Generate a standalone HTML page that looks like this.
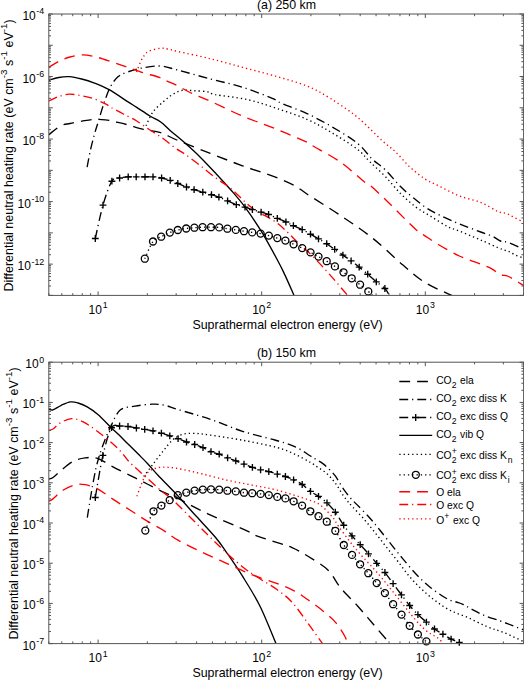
<!DOCTYPE html>
<html><head><meta charset="utf-8"><style>
html,body{margin:0;padding:0;background:#fff;}
svg{display:block;font-family:"Liberation Sans", sans-serif;}
</style></head><body>
<svg width="524" height="680" viewBox="0 0 524 680" fill="#000">
<defs><clipPath id="ca"><rect x="48.80" y="14.00" width="474.80" height="281.40"/></clipPath>
<clipPath id="cb"><rect x="48.80" y="362.20" width="474.80" height="281.40"/></clipPath></defs>
<path d="M48.80,134.70 C50.73,133.25 56.87,127.87 60.40,126.00 C63.93,124.13 66.43,124.30 70.00,123.50 C73.57,122.70 77.88,121.88 81.80,121.20 C85.72,120.52 89.58,119.63 93.50,119.40 C97.42,119.17 101.55,119.37 105.30,119.80 C109.05,120.23 112.32,121.18 116.00,122.00 C119.68,122.82 122.83,123.47 127.40,124.70 C131.97,125.93 137.85,128.07 143.40,129.40 C148.95,130.73 155.13,130.93 160.70,132.70 C166.27,134.47 168.53,136.55 176.80,140.00 C185.07,143.45 199.35,149.10 210.30,153.40 C221.25,157.70 231.75,161.88 242.50,165.80 C253.25,169.72 266.12,173.60 274.80,176.90 C283.48,180.20 289.07,182.63 294.60,185.60 C300.13,188.57 300.38,189.73 308.00,194.70 C315.62,199.67 329.55,208.17 340.30,215.40 C351.05,222.63 362.05,229.82 372.50,238.10 C382.95,246.38 394.42,257.80 403.00,265.10 C411.58,272.40 417.00,277.35 424.00,281.90 C431.00,286.45 440.33,290.15 445.00,292.40 C449.67,294.65 450.83,294.90 452.00,295.40" fill="none" stroke="#000" stroke-width="1.35" stroke-dasharray="10.8 7.0" clip-path="url(#ca)"/>
<path d="M87.10,167.10 C87.68,164.15 89.33,155.02 90.60,149.40 C91.87,143.78 93.33,138.30 94.70,133.40 C96.07,128.50 97.23,125.12 98.80,120.00 C100.37,114.88 102.15,108.27 104.10,102.70 C106.05,97.13 108.15,90.95 110.50,86.60 C112.85,82.25 115.40,79.02 118.20,76.60 C121.00,74.18 123.48,73.50 127.30,72.10 C131.12,70.70 135.75,69.22 141.10,68.20 C146.45,67.18 153.42,65.73 159.40,66.00 C165.38,66.27 168.52,67.63 177.00,69.80 C185.48,71.97 199.38,76.10 210.30,79.00 C221.22,81.90 232.17,83.97 242.50,87.20 C252.83,90.43 265.68,95.65 272.30,98.40 C278.92,101.15 276.42,101.17 282.20,103.70 C287.98,106.23 298.57,109.67 307.00,113.60 C315.43,117.53 324.37,122.33 332.80,127.30 C341.23,132.27 351.02,138.08 357.60,143.40 C364.18,148.72 367.68,154.80 372.30,159.20 C376.92,163.60 380.60,165.23 385.30,169.80 C390.00,174.37 395.93,182.02 400.50,186.60 C405.07,191.18 408.37,193.73 412.70,197.30 C417.03,200.87 421.87,204.95 426.50,208.00 C431.13,211.05 435.03,212.97 440.50,215.60 C445.97,218.23 452.60,221.07 459.30,223.80 C466.00,226.53 475.22,229.95 480.70,232.00 C486.18,234.05 488.92,234.60 492.20,236.10 C495.48,237.60 497.67,239.92 500.40,241.00 C503.13,242.08 504.75,241.23 508.60,242.60 C512.45,243.97 521.02,248.10 523.50,249.20" fill="none" stroke="#000" stroke-width="1.35" stroke-dasharray="8.9 3.9 1.2 4.0" clip-path="url(#ca)"/>
<path d="M95.30,238.50 C96.58,232.93 100.23,214.65 103.00,205.10 C105.77,195.55 109.13,185.72 111.90,181.20 C114.67,176.68 116.88,178.73 119.60,178.00 C122.32,177.27 125.43,177.00 128.20,176.80 C130.97,176.60 133.40,176.80 136.20,176.80 C139.00,176.80 142.20,176.80 145.00,176.80 C147.80,176.80 150.23,176.60 153.00,176.80 C155.77,177.00 158.73,177.42 161.60,178.00 C164.47,178.58 167.50,179.38 170.20,180.30 C172.90,181.22 175.08,182.38 177.80,183.50 C180.52,184.62 183.78,185.97 186.50,187.00 C189.22,188.03 191.38,188.83 194.10,189.70 C196.82,190.57 199.90,191.37 202.80,192.20 C205.70,193.03 208.82,193.87 211.50,194.70 C214.18,195.53 216.22,196.17 218.90,197.20 C221.58,198.23 224.70,199.67 227.60,200.90 C230.50,202.13 233.40,203.57 236.30,204.60 C239.20,205.63 242.32,206.27 245.00,207.10 C247.68,207.93 249.72,208.77 252.40,209.60 C255.08,210.43 258.40,211.28 261.10,212.10 C263.80,212.92 265.90,213.47 268.60,214.50 C271.30,215.53 274.42,217.05 277.30,218.30 C280.18,219.55 283.22,220.77 285.90,222.00 C288.58,223.23 290.68,224.43 293.40,225.70 C296.12,226.97 299.35,228.18 302.20,229.60 C305.05,231.02 307.78,232.65 310.50,234.20 C313.22,235.75 315.80,237.32 318.50,238.90 C321.20,240.48 324.00,241.95 326.70,243.70 C329.40,245.45 332.00,247.50 334.70,249.40 C337.40,251.30 340.17,253.20 342.90,255.10 C345.63,257.00 348.38,258.80 351.10,260.80 C353.82,262.80 356.43,264.87 359.20,267.10 C361.97,269.33 364.85,271.75 367.70,274.20 C370.55,276.65 373.43,279.42 376.30,281.80 C379.17,284.18 382.70,286.23 384.90,288.50 C387.10,290.77 388.73,294.25 389.50,295.40" fill="none" stroke="#000" stroke-width="1.35" stroke-dasharray="8.9 3.9 1.2 4.0" clip-path="url(#ca)"/>
<path d="M48.80,80.30 C50.45,79.83 55.27,78.10 58.70,77.50 C62.13,76.90 65.58,76.45 69.40,76.70 C73.22,76.95 77.53,77.98 81.60,79.00 C85.67,80.02 89.22,81.02 93.80,82.80 C98.38,84.58 103.40,86.52 109.10,89.70 C114.80,92.88 123.40,98.95 128.00,101.90 C132.60,104.85 133.03,105.05 136.70,107.40 C140.37,109.75 146.00,113.57 150.00,116.00 C154.00,118.43 157.35,119.60 160.70,122.00 C164.05,124.40 166.00,126.85 170.10,130.40 C174.20,133.95 180.23,138.80 185.30,143.30 C190.37,147.80 195.42,152.38 200.50,157.40 C205.58,162.42 210.70,167.93 215.80,173.40 C220.90,178.87 226.23,184.58 231.10,190.20 C235.97,195.82 240.03,200.35 245.00,207.10 C249.97,213.85 255.43,221.77 260.90,230.70 C266.37,239.63 273.77,253.25 277.80,260.70 C281.83,268.15 282.40,269.62 285.10,275.40 C287.80,281.18 292.52,292.07 294.00,295.40" fill="none" stroke="#000" stroke-width="1.35"  clip-path="url(#ca)"/>
<path d="M146.00,125.80 C147.15,123.52 149.97,116.17 152.90,112.10 C155.83,108.03 160.30,104.33 163.60,101.40 C166.90,98.47 169.65,96.33 172.70,94.50 C175.75,92.67 178.33,91.03 181.90,90.40 C185.47,89.77 189.77,90.45 194.10,90.70 C198.43,90.95 204.38,91.25 207.90,91.90 C211.42,92.55 208.60,93.32 215.20,94.60 C221.80,95.88 237.20,97.28 247.50,99.60 C257.80,101.92 266.92,105.13 277.00,108.50 C287.08,111.87 298.70,115.67 308.00,119.80 C317.30,123.93 324.53,128.37 332.80,133.30 C341.07,138.23 351.40,144.62 357.60,149.40 C363.80,154.18 365.38,157.48 370.00,162.00 C374.62,166.52 380.22,171.25 385.30,176.50 C390.38,181.75 395.42,188.42 400.50,193.50 C405.58,198.58 410.70,203.17 415.80,207.00 C420.90,210.83 425.75,213.20 431.10,216.50 C436.45,219.80 443.20,224.38 447.90,226.80 C452.60,229.22 453.83,228.80 459.30,231.00 C464.77,233.20 473.58,236.95 480.70,240.00 C487.82,243.05 497.45,247.47 502.00,249.30 C506.55,251.13 505.83,250.08 508.00,251.00 C510.17,251.92 512.42,253.63 515.00,254.80 C517.58,255.97 522.08,257.47 523.50,258.00" fill="none" stroke="#000" stroke-width="1.35" stroke-dasharray="1.3 3.0" clip-path="url(#ca)"/>
<path d="M144.80,258.70 C146.17,255.83 150.27,245.17 153.00,241.50 C155.73,237.83 158.40,238.18 161.20,236.70 C164.00,235.22 167.03,233.72 169.80,232.60 C172.57,231.48 175.07,230.68 177.80,230.00 C180.53,229.32 183.43,228.88 186.20,228.50 C188.97,228.12 191.67,227.92 194.40,227.70 C197.13,227.48 199.83,227.28 202.60,227.20 C205.37,227.12 208.23,227.17 211.00,227.20 C213.77,227.23 216.47,227.15 219.20,227.40 C221.93,227.65 224.63,228.28 227.40,228.70 C230.17,229.12 233.03,229.48 235.80,229.90 C238.57,230.32 241.27,230.78 244.00,231.20 C246.73,231.62 249.43,232.00 252.20,232.40 C254.97,232.80 257.83,233.07 260.60,233.60 C263.37,234.13 266.02,234.85 268.80,235.60 C271.58,236.35 274.53,237.27 277.30,238.10 C280.07,238.93 282.68,239.57 285.40,240.60 C288.12,241.63 290.80,243.05 293.60,244.30 C296.40,245.55 299.38,246.75 302.20,248.10 C305.02,249.45 307.78,250.98 310.50,252.40 C313.22,253.82 315.80,255.13 318.50,256.60 C321.20,258.07 323.97,259.57 326.70,261.20 C329.43,262.83 332.10,264.55 334.90,266.40 C337.70,268.25 340.70,270.32 343.50,272.30 C346.30,274.28 348.93,276.23 351.70,278.30 C354.47,280.37 357.33,282.52 360.10,284.70 C362.87,286.88 366.23,289.62 368.30,291.40 C370.37,293.18 371.80,294.73 372.50,295.40" fill="none" stroke="#000" stroke-width="1.35" stroke-dasharray="1.3 3.0" clip-path="url(#ca)"/>
<path d="M48.80,67.30 C50.67,66.22 56.47,62.52 60.00,60.80 C63.53,59.08 66.27,57.98 70.00,57.00 C73.73,56.02 78.18,54.93 82.40,54.90 C86.62,54.87 90.62,55.72 95.30,56.80 C99.98,57.88 105.42,59.75 110.50,61.40 C115.58,63.05 120.70,64.92 125.80,66.70 C130.90,68.48 135.50,70.32 141.10,72.10 C146.70,73.88 155.15,75.95 159.40,77.40 C163.65,78.85 163.50,79.37 166.60,80.80 C169.70,82.23 173.92,83.97 178.00,86.00 C182.08,88.03 185.72,90.47 191.10,93.00 C196.48,95.53 201.73,97.35 210.30,101.20 C218.87,105.05 231.75,111.55 242.50,116.10 C253.25,120.65 264.05,124.15 274.80,128.50 C285.55,132.85 300.63,139.28 307.00,142.20 C313.37,145.12 307.45,142.70 313.00,146.00 C318.55,149.30 331.62,155.92 340.30,162.00 C348.98,168.08 359.90,178.40 365.10,182.50 C370.30,186.60 367.52,183.18 371.50,186.60 C375.48,190.02 383.25,197.43 389.00,203.00 C394.75,208.57 401.53,215.60 406.00,220.00 C410.47,224.40 412.70,226.80 415.80,229.40 C418.90,232.00 420.90,233.12 424.60,235.60 C428.30,238.08 432.22,240.90 438.00,244.30 C443.78,247.70 452.18,252.68 459.30,256.00 C466.42,259.32 475.22,262.02 480.70,264.20 C486.18,266.38 488.92,267.33 492.20,269.10 C495.48,270.87 497.67,273.57 500.40,274.80 C503.13,276.03 504.75,274.72 508.60,276.50 C512.45,278.28 521.02,284.00 523.50,285.50" fill="none" stroke="#ff0000" stroke-width="1.35" stroke-dasharray="10.8 7.0" clip-path="url(#ca)"/>
<path d="M48.80,101.00 C50.45,100.25 55.27,97.63 58.70,96.50 C62.13,95.37 65.58,94.32 69.40,94.20 C73.22,94.08 77.53,95.03 81.60,95.80 C85.67,96.57 89.73,97.40 93.80,98.80 C97.87,100.20 103.08,102.73 106.00,104.20 C108.92,105.67 108.40,105.97 111.30,107.60 C114.20,109.23 119.17,111.77 123.40,114.00 C127.63,116.23 132.27,118.33 136.70,121.00 C141.13,123.67 145.55,127.05 150.00,130.00 C154.45,132.95 159.17,135.68 163.40,138.70 C167.63,141.72 171.75,145.48 175.40,148.10 C179.05,150.72 181.12,151.45 185.30,154.40 C189.48,157.35 195.42,161.87 200.50,165.80 C205.58,169.73 210.70,174.18 215.80,178.00 C220.90,181.82 225.00,183.65 231.10,188.70 C237.20,193.75 244.70,202.55 252.40,208.30 C260.10,214.05 269.37,217.15 277.30,223.20 C285.23,229.25 293.98,238.97 300.00,244.60 C306.02,250.23 308.63,252.22 313.40,257.00 C318.17,261.78 322.88,266.90 328.60,273.30 C334.32,279.70 344.52,291.72 347.70,295.40" fill="none" stroke="#ff0000" stroke-width="1.35" stroke-dasharray="8.9 3.9 1.2 4.0" clip-path="url(#ca)"/>
<path d="M136.50,72.10 C137.27,70.18 139.72,63.47 141.10,60.60 C142.48,57.73 143.47,56.50 144.80,54.90 C146.13,53.30 146.48,52.12 149.10,51.00 C151.72,49.88 157.32,48.52 160.50,48.20 C163.68,47.88 165.28,48.55 168.20,49.10 C171.12,49.65 170.98,49.90 178.00,51.50 C185.02,53.10 199.55,56.07 210.30,58.70 C221.05,61.33 231.75,64.42 242.50,67.30 C253.25,70.18 264.05,72.88 274.80,76.00 C285.55,79.12 297.75,82.27 307.00,86.00 C316.25,89.73 321.87,93.17 330.30,98.40 C338.73,103.63 348.92,110.32 357.60,117.40 C366.28,124.48 376.13,135.22 382.40,140.90 C388.67,146.58 390.65,147.18 395.20,151.50 C399.75,155.82 404.73,162.22 409.70,166.80 C414.67,171.38 420.28,175.88 425.00,179.00 C429.72,182.12 432.28,182.68 438.00,185.50 C443.72,188.32 452.18,193.08 459.30,195.90 C466.42,198.72 474.25,199.80 480.70,202.40 C487.15,205.00 493.72,209.65 498.00,211.50 C502.28,213.35 503.72,212.52 506.40,213.50 C509.08,214.48 511.25,215.98 514.10,217.40 C516.95,218.82 521.93,221.23 523.50,222.00" fill="none" stroke="#ff0000" stroke-width="1.35" stroke-dasharray="1.3 3.0" clip-path="url(#ca)"/>
<path d="M91.90,238.50H98.70M95.30,235.10V241.90" stroke="#000" stroke-width="1.35" fill="none"/>
<path d="M99.60,205.10H106.40M103.00,201.70V208.50" stroke="#000" stroke-width="1.35" fill="none"/>
<path d="M108.50,181.20H115.30M111.90,177.80V184.60" stroke="#000" stroke-width="1.35" fill="none"/>
<path d="M116.20,178.00H123.00M119.60,174.60V181.40" stroke="#000" stroke-width="1.35" fill="none"/>
<path d="M124.80,176.80H131.60M128.20,173.40V180.20" stroke="#000" stroke-width="1.35" fill="none"/>
<path d="M132.80,176.80H139.60M136.20,173.40V180.20" stroke="#000" stroke-width="1.35" fill="none"/>
<path d="M141.60,176.80H148.40M145.00,173.40V180.20" stroke="#000" stroke-width="1.35" fill="none"/>
<path d="M149.60,176.80H156.40M153.00,173.40V180.20" stroke="#000" stroke-width="1.35" fill="none"/>
<path d="M158.20,178.00H165.00M161.60,174.60V181.40" stroke="#000" stroke-width="1.35" fill="none"/>
<path d="M166.80,180.30H173.60M170.20,176.90V183.70" stroke="#000" stroke-width="1.35" fill="none"/>
<path d="M174.40,183.50H181.20M177.80,180.10V186.90" stroke="#000" stroke-width="1.35" fill="none"/>
<path d="M183.10,187.00H189.90M186.50,183.60V190.40" stroke="#000" stroke-width="1.35" fill="none"/>
<path d="M190.70,189.70H197.50M194.10,186.30V193.10" stroke="#000" stroke-width="1.35" fill="none"/>
<path d="M199.40,192.20H206.20M202.80,188.80V195.60" stroke="#000" stroke-width="1.35" fill="none"/>
<path d="M208.10,194.70H214.90M211.50,191.30V198.10" stroke="#000" stroke-width="1.35" fill="none"/>
<path d="M215.50,197.20H222.30M218.90,193.80V200.60" stroke="#000" stroke-width="1.35" fill="none"/>
<path d="M224.20,200.90H231.00M227.60,197.50V204.30" stroke="#000" stroke-width="1.35" fill="none"/>
<path d="M232.90,204.60H239.70M236.30,201.20V208.00" stroke="#000" stroke-width="1.35" fill="none"/>
<path d="M241.60,207.10H248.40M245.00,203.70V210.50" stroke="#000" stroke-width="1.35" fill="none"/>
<path d="M249.00,209.60H255.80M252.40,206.20V213.00" stroke="#000" stroke-width="1.35" fill="none"/>
<path d="M257.70,212.10H264.50M261.10,208.70V215.50" stroke="#000" stroke-width="1.35" fill="none"/>
<path d="M265.20,214.50H272.00M268.60,211.10V217.90" stroke="#000" stroke-width="1.35" fill="none"/>
<path d="M273.90,218.30H280.70M277.30,214.90V221.70" stroke="#000" stroke-width="1.35" fill="none"/>
<path d="M282.50,222.00H289.30M285.90,218.60V225.40" stroke="#000" stroke-width="1.35" fill="none"/>
<path d="M290.00,225.70H296.80M293.40,222.30V229.10" stroke="#000" stroke-width="1.35" fill="none"/>
<path d="M298.80,229.60H305.60M302.20,226.20V233.00" stroke="#000" stroke-width="1.35" fill="none"/>
<path d="M307.10,234.20H313.90M310.50,230.80V237.60" stroke="#000" stroke-width="1.35" fill="none"/>
<path d="M315.10,238.90H321.90M318.50,235.50V242.30" stroke="#000" stroke-width="1.35" fill="none"/>
<path d="M323.30,243.70H330.10M326.70,240.30V247.10" stroke="#000" stroke-width="1.35" fill="none"/>
<path d="M331.30,249.40H338.10M334.70,246.00V252.80" stroke="#000" stroke-width="1.35" fill="none"/>
<path d="M339.50,255.10H346.30M342.90,251.70V258.50" stroke="#000" stroke-width="1.35" fill="none"/>
<path d="M347.70,260.80H354.50M351.10,257.40V264.20" stroke="#000" stroke-width="1.35" fill="none"/>
<path d="M355.80,267.10H362.60M359.20,263.70V270.50" stroke="#000" stroke-width="1.35" fill="none"/>
<path d="M364.30,274.20H371.10M367.70,270.80V277.60" stroke="#000" stroke-width="1.35" fill="none"/>
<path d="M372.90,281.80H379.70M376.30,278.40V285.20" stroke="#000" stroke-width="1.35" fill="none"/>
<path d="M381.50,288.50H388.30M384.90,285.10V291.90" stroke="#000" stroke-width="1.35" fill="none"/>
<circle cx="144.80" cy="258.70" r="3.50" fill="none" stroke="#000" stroke-width="1.3"/>
<circle cx="153.00" cy="241.50" r="3.50" fill="none" stroke="#000" stroke-width="1.3"/>
<circle cx="161.20" cy="236.70" r="3.50" fill="none" stroke="#000" stroke-width="1.3"/>
<circle cx="169.80" cy="232.60" r="3.50" fill="none" stroke="#000" stroke-width="1.3"/>
<circle cx="177.80" cy="230.00" r="3.50" fill="none" stroke="#000" stroke-width="1.3"/>
<circle cx="186.20" cy="228.50" r="3.50" fill="none" stroke="#000" stroke-width="1.3"/>
<circle cx="194.40" cy="227.70" r="3.50" fill="none" stroke="#000" stroke-width="1.3"/>
<circle cx="202.60" cy="227.20" r="3.50" fill="none" stroke="#000" stroke-width="1.3"/>
<circle cx="211.00" cy="227.20" r="3.50" fill="none" stroke="#000" stroke-width="1.3"/>
<circle cx="219.20" cy="227.40" r="3.50" fill="none" stroke="#000" stroke-width="1.3"/>
<circle cx="227.40" cy="228.70" r="3.50" fill="none" stroke="#000" stroke-width="1.3"/>
<circle cx="235.80" cy="229.90" r="3.50" fill="none" stroke="#000" stroke-width="1.3"/>
<circle cx="244.00" cy="231.20" r="3.50" fill="none" stroke="#000" stroke-width="1.3"/>
<circle cx="252.20" cy="232.40" r="3.50" fill="none" stroke="#000" stroke-width="1.3"/>
<circle cx="260.60" cy="233.60" r="3.50" fill="none" stroke="#000" stroke-width="1.3"/>
<circle cx="268.80" cy="235.60" r="3.50" fill="none" stroke="#000" stroke-width="1.3"/>
<circle cx="277.30" cy="238.10" r="3.50" fill="none" stroke="#000" stroke-width="1.3"/>
<circle cx="285.40" cy="240.60" r="3.50" fill="none" stroke="#000" stroke-width="1.3"/>
<circle cx="293.60" cy="244.30" r="3.50" fill="none" stroke="#000" stroke-width="1.3"/>
<circle cx="302.20" cy="248.10" r="3.50" fill="none" stroke="#000" stroke-width="1.3"/>
<circle cx="310.50" cy="252.40" r="3.50" fill="none" stroke="#000" stroke-width="1.3"/>
<circle cx="318.50" cy="256.60" r="3.50" fill="none" stroke="#000" stroke-width="1.3"/>
<circle cx="326.70" cy="261.20" r="3.50" fill="none" stroke="#000" stroke-width="1.3"/>
<circle cx="334.90" cy="266.40" r="3.50" fill="none" stroke="#000" stroke-width="1.3"/>
<circle cx="343.50" cy="272.30" r="3.50" fill="none" stroke="#000" stroke-width="1.3"/>
<circle cx="351.70" cy="278.30" r="3.50" fill="none" stroke="#000" stroke-width="1.3"/>
<circle cx="360.10" cy="284.70" r="3.50" fill="none" stroke="#000" stroke-width="1.3"/>
<circle cx="368.30" cy="291.40" r="3.50" fill="none" stroke="#000" stroke-width="1.3"/>
<path d="M48.80,479.00 C49.50,478.75 51.07,478.83 53.00,477.50 C54.93,476.17 57.10,473.67 60.40,471.00 C63.70,468.33 68.67,463.68 72.80,461.50 C76.93,459.32 81.07,458.42 85.20,457.90 C89.33,457.38 93.05,456.95 97.60,458.40 C102.15,459.85 107.12,463.78 112.50,466.60 C117.88,469.42 124.10,472.40 129.90,475.30 C135.70,478.20 141.52,481.10 147.30,484.00 C153.08,486.90 159.65,490.43 164.60,492.70 C169.55,494.97 173.53,495.97 177.00,497.60 C180.47,499.23 180.27,499.80 185.40,502.50 C190.53,505.20 197.45,509.03 207.80,513.80 C218.15,518.57 239.65,527.53 247.50,531.10 C255.35,534.67 249.93,533.27 254.90,535.20 C259.87,537.13 271.10,540.63 277.30,542.70 C283.50,544.77 286.98,545.33 292.10,547.60 C297.22,549.87 302.03,552.57 308.00,556.30 C313.97,560.03 322.52,564.82 327.90,570.00 C333.28,575.18 335.35,581.40 340.30,587.40 C345.25,593.40 352.23,600.02 357.60,606.00 C362.97,611.98 367.53,617.52 372.50,623.30 C377.47,629.08 384.48,637.32 387.40,640.70 C390.32,644.08 389.57,643.12 390.00,643.60" fill="none" stroke="#000" stroke-width="1.35" stroke-dasharray="10.8 7.0" clip-path="url(#cb)"/>
<path d="M87.30,517.60 C88.00,513.30 90.00,500.25 91.50,491.80 C93.00,483.35 94.55,474.23 96.30,466.90 C98.05,459.57 99.62,454.48 102.00,447.80 C104.38,441.12 107.57,433.10 110.60,426.80 C113.63,420.50 116.15,413.43 120.20,410.00 C124.25,406.57 129.57,407.17 134.90,406.20 C140.23,405.23 147.25,404.37 152.20,404.20 C157.15,404.03 160.30,404.32 164.60,405.20 C168.90,406.08 170.38,407.15 178.00,409.50 C185.62,411.85 199.55,415.67 210.30,419.30 C221.05,422.93 231.75,427.85 242.50,431.30 C253.25,434.75 266.00,437.42 274.80,440.00 C283.60,442.58 289.35,444.13 295.30,446.80 C301.25,449.47 307.05,453.90 310.50,456.00 C313.95,458.10 313.93,458.13 316.00,459.40 C318.07,460.67 320.62,461.88 322.90,463.60 C325.18,465.32 327.60,467.60 329.70,469.70 C331.80,471.80 333.72,473.78 335.50,476.20 C337.28,478.62 338.82,481.72 340.40,484.20 C341.98,486.68 343.23,488.70 345.00,491.10 C346.77,493.50 349.05,496.38 351.00,498.60 C352.95,500.82 353.68,501.30 356.70,504.40 C359.72,507.50 365.25,512.93 369.10,517.20 C372.95,521.47 375.63,524.85 379.80,530.00 C383.97,535.15 390.28,543.33 394.10,548.10 C397.92,552.87 399.52,554.78 402.70,558.60 C405.88,562.42 410.00,567.43 413.20,571.00 C416.40,574.57 419.18,577.38 421.90,580.00 C424.62,582.62 426.63,584.40 429.50,586.70 C432.37,589.00 435.92,591.65 439.10,593.80 C442.28,595.95 445.73,598.23 448.60,599.60 C451.47,600.97 453.92,601.22 456.30,602.00 C458.68,602.78 460.48,603.18 462.90,604.30 C465.32,605.42 467.28,606.87 470.80,608.70 C474.32,610.53 479.07,613.25 484.00,615.30 C488.93,617.35 495.48,619.22 500.40,621.00 C505.32,622.78 509.65,624.53 513.50,626.00 C517.35,627.47 521.83,629.17 523.50,629.80" fill="none" stroke="#000" stroke-width="1.35" stroke-dasharray="8.9 3.9 1.2 4.0" clip-path="url(#cb)"/>
<path d="M95.30,497.50 C96.57,490.48 100.20,467.03 102.90,455.40 C105.60,443.77 108.72,432.60 111.50,427.70 C114.28,422.80 116.85,426.20 119.60,426.00 C122.35,425.80 125.20,426.17 128.00,426.50 C130.80,426.83 133.62,427.52 136.40,428.00 C139.18,428.48 141.93,428.93 144.70,429.40 C147.47,429.87 150.22,430.17 153.00,430.80 C155.78,431.43 158.60,432.37 161.40,433.20 C164.20,434.03 167.02,434.88 169.80,435.80 C172.58,436.72 175.32,437.67 178.10,438.70 C180.88,439.73 183.73,441.03 186.50,442.00 C189.27,442.97 191.95,443.57 194.70,444.50 C197.45,445.43 200.28,446.40 203.00,447.60 C205.72,448.80 208.30,450.60 211.00,451.70 C213.70,452.80 216.43,453.17 219.20,454.20 C221.97,455.23 224.83,456.78 227.60,457.90 C230.37,459.02 233.07,459.87 235.80,460.90 C238.53,461.93 241.23,463.02 244.00,464.10 C246.77,465.18 249.63,466.45 252.40,467.40 C255.17,468.35 257.87,469.10 260.60,469.80 C263.33,470.50 266.02,470.88 268.80,471.60 C271.58,472.32 274.53,473.28 277.30,474.10 C280.07,474.92 282.68,475.55 285.40,476.50 C288.12,477.45 290.80,478.47 293.60,479.80 C296.40,481.13 299.38,482.57 302.20,484.50 C305.02,486.43 307.78,489.43 310.50,491.40 C313.22,493.37 315.75,494.40 318.50,496.30 C321.25,498.20 324.20,500.15 327.00,502.80 C329.80,505.45 332.52,508.47 335.30,512.20 C338.08,515.93 340.92,521.27 343.70,525.20 C346.48,529.13 349.25,532.55 352.00,535.80 C354.75,539.05 357.45,541.70 360.20,544.70 C362.95,547.70 365.75,550.70 368.50,553.80 C371.25,556.90 373.97,560.18 376.70,563.30 C379.43,566.42 382.17,569.12 384.90,572.50 C387.63,575.88 390.33,579.88 393.10,583.60 C395.87,587.32 398.73,591.15 401.50,594.80 C404.27,598.45 406.97,602.20 409.70,605.50 C412.43,608.80 415.12,611.83 417.90,614.60 C420.68,617.37 423.63,619.70 426.40,622.10 C429.17,624.50 431.75,626.98 434.50,629.00 C437.25,631.02 440.13,632.52 442.90,634.20 C445.67,635.88 448.37,637.73 451.10,639.10 C453.83,640.47 457.65,641.65 459.30,642.40 C460.95,643.15 460.72,643.40 461.00,643.60" fill="none" stroke="#000" stroke-width="1.35" stroke-dasharray="8.9 3.9 1.2 4.0" clip-path="url(#cb)"/>
<path d="M48.80,409.10 C49.48,409.22 50.82,410.43 52.90,409.80 C54.98,409.17 58.38,406.62 61.30,405.30 C64.22,403.98 67.60,402.28 70.40,401.90 C73.20,401.52 75.30,402.18 78.10,403.00 C80.90,403.82 83.90,404.90 87.20,406.80 C90.50,408.70 93.93,410.97 97.90,414.40 C101.87,417.83 107.47,423.97 111.00,427.40 C114.53,430.83 116.17,432.13 119.10,435.00 C122.03,437.87 125.42,441.42 128.60,444.60 C131.78,447.78 135.02,450.92 138.20,454.10 C141.38,457.28 144.37,460.13 147.70,463.70 C151.03,467.27 153.27,470.23 158.20,475.50 C163.13,480.77 170.95,488.50 177.30,495.30 C183.65,502.10 189.95,509.30 196.30,516.30 C202.65,523.30 210.18,531.03 215.40,537.30 C220.62,543.57 223.08,547.42 227.60,553.90 C232.12,560.38 237.12,567.52 242.50,576.20 C247.88,584.88 254.32,594.77 259.90,606.00 C265.48,617.23 273.32,637.33 276.00,643.60" fill="none" stroke="#000" stroke-width="1.35"  clip-path="url(#cb)"/>
<path d="M143.70,476.50 C145.23,474.47 149.58,468.63 152.90,464.30 C156.22,459.97 160.30,454.58 163.60,450.50 C166.90,446.42 169.65,442.47 172.70,439.80 C175.75,437.13 178.33,435.57 181.90,434.50 C185.47,433.43 189.52,433.32 194.10,433.40 C198.68,433.48 201.33,433.87 209.40,435.00 C217.47,436.13 231.18,438.10 242.50,440.20 C253.82,442.30 268.50,445.23 277.30,447.60 C286.10,449.97 289.77,451.92 295.30,454.40 C300.83,456.88 306.80,460.38 310.50,462.50 C314.20,464.62 315.08,465.52 317.50,467.10 C319.92,468.68 322.68,470.13 325.00,472.00 C327.32,473.87 329.43,476.10 331.40,478.30 C333.37,480.50 335.10,482.75 336.80,485.20 C338.50,487.65 339.95,490.52 341.60,493.00 C343.25,495.48 344.90,497.82 346.70,500.10 C348.50,502.38 349.45,503.45 352.40,506.70 C355.35,509.95 360.47,515.08 364.40,519.60 C368.33,524.12 372.25,529.12 376.00,533.80 C379.75,538.48 383.25,543.08 386.90,547.70 C390.55,552.32 394.23,556.82 397.90,561.50 C401.57,566.18 405.05,571.28 408.90,575.80 C412.75,580.32 416.77,584.57 421.00,588.60 C425.23,592.63 429.53,596.42 434.30,600.00 C439.07,603.58 444.03,607.18 449.60,610.10 C455.17,613.02 461.42,614.72 467.70,617.50 C473.98,620.28 481.30,624.30 487.30,626.80 C493.30,629.30 497.67,630.05 503.70,632.50 C509.73,634.95 520.20,640.00 523.50,641.50" fill="none" stroke="#000" stroke-width="1.35" stroke-dasharray="1.3 3.0" clip-path="url(#cb)"/>
<path d="M145.30,530.60 C146.67,527.38 150.82,515.47 153.50,511.30 C156.18,507.13 158.70,507.47 161.40,505.60 C164.10,503.73 166.97,501.83 169.70,500.10 C172.43,498.37 175.03,496.45 177.80,495.20 C180.57,493.95 183.50,493.37 186.30,492.60 C189.10,491.83 191.85,491.10 194.60,490.60 C197.35,490.10 200.07,489.80 202.80,489.60 C205.53,489.40 208.27,489.38 211.00,489.40 C213.73,489.42 216.47,489.48 219.20,489.70 C221.93,489.92 224.63,490.42 227.40,490.70 C230.17,490.98 233.03,491.07 235.80,491.40 C238.57,491.73 241.27,492.40 244.00,492.70 C246.73,493.00 249.43,493.00 252.20,493.20 C254.97,493.40 257.83,493.58 260.60,493.90 C263.37,494.22 266.02,494.60 268.80,495.10 C271.58,495.60 274.53,496.35 277.30,496.90 C280.07,497.45 282.68,497.67 285.40,498.40 C288.12,499.13 290.82,500.10 293.60,501.30 C296.38,502.50 299.32,503.93 302.10,505.60 C304.88,507.27 307.57,509.53 310.30,511.30 C313.03,513.07 315.75,514.47 318.50,516.20 C321.25,517.93 324.00,519.27 326.80,521.70 C329.60,524.13 332.47,526.92 335.30,530.80 C338.13,534.68 341.02,540.98 343.80,545.00 C346.58,549.02 349.28,551.68 352.00,554.90 C354.72,558.12 357.38,561.25 360.10,564.30 C362.82,567.35 365.53,570.07 368.30,573.20 C371.07,576.33 373.93,579.78 376.70,583.10 C379.47,586.42 382.17,589.58 384.90,593.10 C387.63,596.62 390.33,600.62 393.10,604.20 C395.87,607.78 398.73,611.00 401.50,614.60 C404.27,618.20 406.97,622.48 409.70,625.80 C412.43,629.12 415.12,631.90 417.90,634.50 C420.68,637.10 424.55,639.88 426.40,641.40 C428.25,642.92 428.57,643.23 429.00,643.60" fill="none" stroke="#000" stroke-width="1.35" stroke-dasharray="1.3 3.0" clip-path="url(#cb)"/>
<path d="M48.80,501.30 C49.50,500.90 50.65,500.75 53.00,498.90 C55.35,497.05 59.18,492.57 62.90,490.20 C66.62,487.83 71.58,485.62 75.30,484.70 C79.02,483.78 81.48,484.00 85.20,484.70 C88.92,485.40 93.05,486.53 97.60,488.90 C102.15,491.27 107.12,495.38 112.50,498.90 C117.88,502.42 124.10,506.28 129.90,510.00 C135.70,513.72 141.52,517.68 147.30,521.20 C153.08,524.72 159.48,527.93 164.60,531.10 C169.72,534.27 171.63,536.62 178.00,540.20 C184.37,543.78 194.53,548.67 202.80,552.60 C211.07,556.53 219.33,560.08 227.60,563.80 C235.87,567.52 244.12,571.60 252.40,574.90 C260.68,578.20 270.27,580.90 277.30,583.60 C284.33,586.30 289.48,588.40 294.60,591.10 C299.72,593.80 303.28,596.50 308.00,599.80 C312.72,603.10 318.35,607.18 322.90,610.90 C327.45,614.62 331.58,617.75 335.30,622.10 C339.02,626.45 343.28,633.42 345.20,637.00 C347.12,640.58 346.53,642.50 346.80,643.60" fill="none" stroke="#ff0000" stroke-width="1.35" stroke-dasharray="10.8 7.0" clip-path="url(#cb)"/>
<path d="M48.80,430.20 C49.50,430.00 51.07,430.23 53.00,429.00 C54.93,427.77 57.30,424.53 60.40,422.80 C63.50,421.07 67.88,418.80 71.60,418.60 C75.32,418.40 78.37,419.45 82.70,421.60 C87.03,423.75 91.80,427.10 97.60,431.50 C103.40,435.90 112.10,442.80 117.50,448.00 C122.90,453.20 125.37,457.95 130.00,462.70 C134.63,467.45 140.22,471.92 145.30,476.50 C150.38,481.08 156.68,486.90 160.50,490.20 C164.32,493.50 165.28,493.83 168.20,496.30 C171.12,498.77 171.62,498.78 178.00,505.00 C184.38,511.22 198.23,525.45 206.50,533.60 C214.77,541.75 221.18,548.05 227.60,553.90 C234.02,559.75 239.62,564.57 245.00,568.70 C250.38,572.83 254.52,575.18 259.90,578.70 C265.28,582.22 271.93,585.88 277.30,589.80 C282.67,593.72 286.98,596.62 292.10,602.20 C297.22,607.78 303.28,616.88 308.00,623.30 C312.72,629.72 317.98,637.32 320.40,640.70 C322.82,644.08 322.15,643.12 322.50,643.60" fill="none" stroke="#ff0000" stroke-width="1.35" stroke-dasharray="8.9 3.9 1.2 4.0" clip-path="url(#cb)"/>
<path d="M136.90,496.30 C137.67,494.27 139.85,487.92 141.50,484.10 C143.15,480.28 144.38,476.07 146.80,473.40 C149.22,470.73 152.43,469.12 156.00,468.10 C159.57,467.08 163.63,467.05 168.20,467.30 C172.77,467.55 177.63,468.47 183.40,469.60 C189.17,470.73 195.43,472.32 202.80,474.10 C210.17,475.88 219.33,478.45 227.60,480.30 C235.87,482.15 244.12,483.55 252.40,485.20 C260.68,486.85 268.12,487.82 277.30,490.20 C286.48,492.58 300.32,497.02 307.50,499.50 C314.68,501.98 316.18,502.10 320.40,505.10 C324.62,508.10 329.83,514.05 332.80,517.50 C335.77,520.95 335.52,522.00 338.20,525.80 C340.88,529.60 345.35,535.72 348.90,540.30 C352.45,544.88 353.92,546.90 359.50,553.30 C365.08,559.70 372.37,566.82 382.40,578.70 C392.43,590.58 410.43,614.68 419.70,624.60 C428.97,634.52 434.12,635.03 438.00,638.20 C441.88,641.37 442.17,642.70 443.00,643.60" fill="none" stroke="#ff0000" stroke-width="1.35" stroke-dasharray="1.3 3.0" clip-path="url(#cb)"/>
<path d="M91.90,497.50H98.70M95.30,494.10V500.90" stroke="#000" stroke-width="1.35" fill="none"/>
<path d="M99.50,455.40H106.30M102.90,452.00V458.80" stroke="#000" stroke-width="1.35" fill="none"/>
<path d="M108.10,427.70H114.90M111.50,424.30V431.10" stroke="#000" stroke-width="1.35" fill="none"/>
<path d="M116.20,426.00H123.00M119.60,422.60V429.40" stroke="#000" stroke-width="1.35" fill="none"/>
<path d="M124.60,426.50H131.40M128.00,423.10V429.90" stroke="#000" stroke-width="1.35" fill="none"/>
<path d="M133.00,428.00H139.80M136.40,424.60V431.40" stroke="#000" stroke-width="1.35" fill="none"/>
<path d="M141.30,429.40H148.10M144.70,426.00V432.80" stroke="#000" stroke-width="1.35" fill="none"/>
<path d="M149.60,430.80H156.40M153.00,427.40V434.20" stroke="#000" stroke-width="1.35" fill="none"/>
<path d="M158.00,433.20H164.80M161.40,429.80V436.60" stroke="#000" stroke-width="1.35" fill="none"/>
<path d="M166.40,435.80H173.20M169.80,432.40V439.20" stroke="#000" stroke-width="1.35" fill="none"/>
<path d="M174.70,438.70H181.50M178.10,435.30V442.10" stroke="#000" stroke-width="1.35" fill="none"/>
<path d="M183.10,442.00H189.90M186.50,438.60V445.40" stroke="#000" stroke-width="1.35" fill="none"/>
<path d="M191.30,444.50H198.10M194.70,441.10V447.90" stroke="#000" stroke-width="1.35" fill="none"/>
<path d="M199.60,447.60H206.40M203.00,444.20V451.00" stroke="#000" stroke-width="1.35" fill="none"/>
<path d="M207.60,451.70H214.40M211.00,448.30V455.10" stroke="#000" stroke-width="1.35" fill="none"/>
<path d="M215.80,454.20H222.60M219.20,450.80V457.60" stroke="#000" stroke-width="1.35" fill="none"/>
<path d="M224.20,457.90H231.00M227.60,454.50V461.30" stroke="#000" stroke-width="1.35" fill="none"/>
<path d="M232.40,460.90H239.20M235.80,457.50V464.30" stroke="#000" stroke-width="1.35" fill="none"/>
<path d="M240.60,464.10H247.40M244.00,460.70V467.50" stroke="#000" stroke-width="1.35" fill="none"/>
<path d="M249.00,467.40H255.80M252.40,464.00V470.80" stroke="#000" stroke-width="1.35" fill="none"/>
<path d="M257.20,469.80H264.00M260.60,466.40V473.20" stroke="#000" stroke-width="1.35" fill="none"/>
<path d="M265.40,471.60H272.20M268.80,468.20V475.00" stroke="#000" stroke-width="1.35" fill="none"/>
<path d="M273.90,474.10H280.70M277.30,470.70V477.50" stroke="#000" stroke-width="1.35" fill="none"/>
<path d="M282.00,476.50H288.80M285.40,473.10V479.90" stroke="#000" stroke-width="1.35" fill="none"/>
<path d="M290.20,479.80H297.00M293.60,476.40V483.20" stroke="#000" stroke-width="1.35" fill="none"/>
<path d="M298.80,484.50H305.60M302.20,481.10V487.90" stroke="#000" stroke-width="1.35" fill="none"/>
<path d="M307.10,491.40H313.90M310.50,488.00V494.80" stroke="#000" stroke-width="1.35" fill="none"/>
<path d="M315.10,496.30H321.90M318.50,492.90V499.70" stroke="#000" stroke-width="1.35" fill="none"/>
<path d="M323.60,502.80H330.40M327.00,499.40V506.20" stroke="#000" stroke-width="1.35" fill="none"/>
<path d="M331.90,512.20H338.70M335.30,508.80V515.60" stroke="#000" stroke-width="1.35" fill="none"/>
<path d="M340.30,525.20H347.10M343.70,521.80V528.60" stroke="#000" stroke-width="1.35" fill="none"/>
<path d="M348.60,535.80H355.40M352.00,532.40V539.20" stroke="#000" stroke-width="1.35" fill="none"/>
<path d="M356.80,544.70H363.60M360.20,541.30V548.10" stroke="#000" stroke-width="1.35" fill="none"/>
<path d="M365.10,553.80H371.90M368.50,550.40V557.20" stroke="#000" stroke-width="1.35" fill="none"/>
<path d="M373.30,563.30H380.10M376.70,559.90V566.70" stroke="#000" stroke-width="1.35" fill="none"/>
<path d="M381.50,572.50H388.30M384.90,569.10V575.90" stroke="#000" stroke-width="1.35" fill="none"/>
<path d="M389.70,583.60H396.50M393.10,580.20V587.00" stroke="#000" stroke-width="1.35" fill="none"/>
<path d="M398.10,594.80H404.90M401.50,591.40V598.20" stroke="#000" stroke-width="1.35" fill="none"/>
<path d="M406.30,605.50H413.10M409.70,602.10V608.90" stroke="#000" stroke-width="1.35" fill="none"/>
<path d="M414.50,614.60H421.30M417.90,611.20V618.00" stroke="#000" stroke-width="1.35" fill="none"/>
<path d="M423.00,622.10H429.80M426.40,618.70V625.50" stroke="#000" stroke-width="1.35" fill="none"/>
<path d="M431.10,629.00H437.90M434.50,625.60V632.40" stroke="#000" stroke-width="1.35" fill="none"/>
<path d="M439.50,634.20H446.30M442.90,630.80V637.60" stroke="#000" stroke-width="1.35" fill="none"/>
<path d="M447.70,639.10H454.50M451.10,635.70V642.50" stroke="#000" stroke-width="1.35" fill="none"/>
<path d="M455.90,642.40H462.70M459.30,639.00V645.80" stroke="#000" stroke-width="1.35" fill="none"/>
<circle cx="145.30" cy="530.60" r="3.50" fill="none" stroke="#000" stroke-width="1.3"/>
<circle cx="153.50" cy="511.30" r="3.50" fill="none" stroke="#000" stroke-width="1.3"/>
<circle cx="161.40" cy="505.60" r="3.50" fill="none" stroke="#000" stroke-width="1.3"/>
<circle cx="169.70" cy="500.10" r="3.50" fill="none" stroke="#000" stroke-width="1.3"/>
<circle cx="177.80" cy="495.20" r="3.50" fill="none" stroke="#000" stroke-width="1.3"/>
<circle cx="186.30" cy="492.60" r="3.50" fill="none" stroke="#000" stroke-width="1.3"/>
<circle cx="194.60" cy="490.60" r="3.50" fill="none" stroke="#000" stroke-width="1.3"/>
<circle cx="202.80" cy="489.60" r="3.50" fill="none" stroke="#000" stroke-width="1.3"/>
<circle cx="211.00" cy="489.40" r="3.50" fill="none" stroke="#000" stroke-width="1.3"/>
<circle cx="219.20" cy="489.70" r="3.50" fill="none" stroke="#000" stroke-width="1.3"/>
<circle cx="227.40" cy="490.70" r="3.50" fill="none" stroke="#000" stroke-width="1.3"/>
<circle cx="235.80" cy="491.40" r="3.50" fill="none" stroke="#000" stroke-width="1.3"/>
<circle cx="244.00" cy="492.70" r="3.50" fill="none" stroke="#000" stroke-width="1.3"/>
<circle cx="252.20" cy="493.20" r="3.50" fill="none" stroke="#000" stroke-width="1.3"/>
<circle cx="260.60" cy="493.90" r="3.50" fill="none" stroke="#000" stroke-width="1.3"/>
<circle cx="268.80" cy="495.10" r="3.50" fill="none" stroke="#000" stroke-width="1.3"/>
<circle cx="277.30" cy="496.90" r="3.50" fill="none" stroke="#000" stroke-width="1.3"/>
<circle cx="285.40" cy="498.40" r="3.50" fill="none" stroke="#000" stroke-width="1.3"/>
<circle cx="293.60" cy="501.30" r="3.50" fill="none" stroke="#000" stroke-width="1.3"/>
<circle cx="302.10" cy="505.60" r="3.50" fill="none" stroke="#000" stroke-width="1.3"/>
<circle cx="310.30" cy="511.30" r="3.50" fill="none" stroke="#000" stroke-width="1.3"/>
<circle cx="318.50" cy="516.20" r="3.50" fill="none" stroke="#000" stroke-width="1.3"/>
<circle cx="326.80" cy="521.70" r="3.50" fill="none" stroke="#000" stroke-width="1.3"/>
<circle cx="335.30" cy="530.80" r="3.50" fill="none" stroke="#000" stroke-width="1.3"/>
<circle cx="343.80" cy="545.00" r="3.50" fill="none" stroke="#000" stroke-width="1.3"/>
<circle cx="352.00" cy="554.90" r="3.50" fill="none" stroke="#000" stroke-width="1.3"/>
<circle cx="360.10" cy="564.30" r="3.50" fill="none" stroke="#000" stroke-width="1.3"/>
<circle cx="368.30" cy="573.20" r="3.50" fill="none" stroke="#000" stroke-width="1.3"/>
<circle cx="376.70" cy="583.10" r="3.50" fill="none" stroke="#000" stroke-width="1.3"/>
<circle cx="384.90" cy="593.10" r="3.50" fill="none" stroke="#000" stroke-width="1.3"/>
<circle cx="393.10" cy="604.20" r="3.50" fill="none" stroke="#000" stroke-width="1.3"/>
<circle cx="401.50" cy="614.60" r="3.50" fill="none" stroke="#000" stroke-width="1.3"/>
<circle cx="409.70" cy="625.80" r="3.50" fill="none" stroke="#000" stroke-width="1.3"/>
<circle cx="417.90" cy="634.50" r="3.50" fill="none" stroke="#000" stroke-width="1.3"/>
<circle cx="426.40" cy="641.40" r="3.50" fill="none" stroke="#000" stroke-width="1.3"/>
<rect x="48.80" y="14.00" width="474.80" height="281.40" fill="none" stroke="#555555" stroke-width="1"/>
<path d="M48.85,295.40V293.20M48.85,14.00V16.20 M61.81,295.40V293.20M61.81,14.00V16.20 M72.76,295.40V293.20M72.76,14.00V16.20 M82.25,295.40V293.20M82.25,14.00V16.20 M90.61,295.40V293.20M90.61,14.00V16.20 M98.10,295.40V291.40M98.10,14.00V18.00 M147.35,295.40V293.20M147.35,14.00V16.20 M176.16,295.40V293.20M176.16,14.00V16.20 M196.60,295.40V293.20M196.60,14.00V16.20 M212.45,295.40V293.20M212.45,14.00V16.20 M225.41,295.40V293.20M225.41,14.00V16.20 M236.36,295.40V293.20M236.36,14.00V16.20 M245.85,295.40V293.20M245.85,14.00V16.20 M254.21,295.40V293.20M254.21,14.00V16.20 M261.70,295.40V291.40M261.70,14.00V18.00 M310.95,295.40V293.20M310.95,14.00V16.20 M339.76,295.40V293.20M339.76,14.00V16.20 M360.20,295.40V293.20M360.20,14.00V16.20 M376.05,295.40V293.20M376.05,14.00V16.20 M389.01,295.40V293.20M389.01,14.00V16.20 M399.96,295.40V293.20M399.96,14.00V16.20 M409.45,295.40V293.20M409.45,14.00V16.20 M417.81,295.40V293.20M417.81,14.00V16.20 M425.30,295.40V291.40M425.30,14.00V18.00 M474.55,295.40V293.20M474.55,14.00V16.20 M503.36,295.40V293.20M503.36,14.00V16.20 M523.80,295.40V293.20M523.80,14.00V16.20 M48.80,295.40H52.80M523.60,295.40H519.60 M48.80,285.99H51.00M523.60,285.99H521.40 M48.80,280.48H51.00M523.60,280.48H521.40 M48.80,276.58H51.00M523.60,276.58H521.40 M48.80,273.55H51.00M523.60,273.55H521.40 M48.80,271.07H51.00M523.60,271.07H521.40 M48.80,268.98H51.00M523.60,268.98H521.40 M48.80,267.16H51.00M523.60,267.16H521.40 M48.80,265.56H51.00M523.60,265.56H521.40 M48.80,264.13H52.80M523.60,264.13H519.60 M48.80,254.72H51.00M523.60,254.72H521.40 M48.80,249.22H51.00M523.60,249.22H521.40 M48.80,245.31H51.00M523.60,245.31H521.40 M48.80,242.28H51.00M523.60,242.28H521.40 M48.80,239.80H51.00M523.60,239.80H521.40 M48.80,237.71H51.00M523.60,237.71H521.40 M48.80,235.90H51.00M523.60,235.90H521.40 M48.80,234.30H51.00M523.60,234.30H521.40 M48.80,232.87H52.80M523.60,232.87H519.60 M48.80,223.45H51.00M523.60,223.45H521.40 M48.80,217.95H51.00M523.60,217.95H521.40 M48.80,214.04H51.00M523.60,214.04H521.40 M48.80,211.01H51.00M523.60,211.01H521.40 M48.80,208.54H51.00M523.60,208.54H521.40 M48.80,206.44H51.00M523.60,206.44H521.40 M48.80,204.63H51.00M523.60,204.63H521.40 M48.80,203.03H51.00M523.60,203.03H521.40 M48.80,201.60H52.80M523.60,201.60H519.60 M48.80,192.19H51.00M523.60,192.19H521.40 M48.80,186.68H51.00M523.60,186.68H521.40 M48.80,182.78H51.00M523.60,182.78H521.40 M48.80,179.75H51.00M523.60,179.75H521.40 M48.80,177.27H51.00M523.60,177.27H521.40 M48.80,175.18H51.00M523.60,175.18H521.40 M48.80,173.36H51.00M523.60,173.36H521.40 M48.80,171.76H51.00M523.60,171.76H521.40 M48.80,170.33H52.80M523.60,170.33H519.60 M48.80,160.92H51.00M523.60,160.92H521.40 M48.80,155.42H51.00M523.60,155.42H521.40 M48.80,151.51H51.00M523.60,151.51H521.40 M48.80,148.48H51.00M523.60,148.48H521.40 M48.80,146.00H51.00M523.60,146.00H521.40 M48.80,143.91H51.00M523.60,143.91H521.40 M48.80,142.10H51.00M523.60,142.10H521.40 M48.80,140.50H51.00M523.60,140.50H521.40 M48.80,139.07H52.80M523.60,139.07H519.60 M48.80,129.65H51.00M523.60,129.65H521.40 M48.80,124.15H51.00M523.60,124.15H521.40 M48.80,120.24H51.00M523.60,120.24H521.40 M48.80,117.21H51.00M523.60,117.21H521.40 M48.80,114.74H51.00M523.60,114.74H521.40 M48.80,112.64H51.00M523.60,112.64H521.40 M48.80,110.83H51.00M523.60,110.83H521.40 M48.80,109.23H51.00M523.60,109.23H521.40 M48.80,107.80H52.80M523.60,107.80H519.60 M48.80,98.39H51.00M523.60,98.39H521.40 M48.80,92.88H51.00M523.60,92.88H521.40 M48.80,88.98H51.00M523.60,88.98H521.40 M48.80,85.95H51.00M523.60,85.95H521.40 M48.80,83.47H51.00M523.60,83.47H521.40 M48.80,81.38H51.00M523.60,81.38H521.40 M48.80,79.56H51.00M523.60,79.56H521.40 M48.80,77.96H51.00M523.60,77.96H521.40 M48.80,76.53H52.80M523.60,76.53H519.60 M48.80,67.12H51.00M523.60,67.12H521.40 M48.80,61.62H51.00M523.60,61.62H521.40 M48.80,57.71H51.00M523.60,57.71H521.40 M48.80,54.68H51.00M523.60,54.68H521.40 M48.80,52.20H51.00M523.60,52.20H521.40 M48.80,50.11H51.00M523.60,50.11H521.40 M48.80,48.30H51.00M523.60,48.30H521.40 M48.80,46.70H51.00M523.60,46.70H521.40 M48.80,45.27H52.80M523.60,45.27H519.60 M48.80,35.85H51.00M523.60,35.85H521.40 M48.80,30.35H51.00M523.60,30.35H521.40 M48.80,26.44H51.00M523.60,26.44H521.40 M48.80,23.41H51.00M523.60,23.41H521.40 M48.80,20.94H51.00M523.60,20.94H521.40 M48.80,18.84H51.00M523.60,18.84H521.40 M48.80,17.03H51.00M523.60,17.03H521.40 M48.80,15.43H51.00M523.60,15.43H521.40 M48.80,14.00H52.80M523.60,14.00H519.60" stroke="#555555" stroke-width="1" fill="none"/>
<text x="44.2" y="20.00" text-anchor="end" font-size="12"><tspan>10</tspan><tspan dx="0.6" dy="-5.6" font-size="8.8">&#8209;4</tspan></text>
<text x="44.2" y="82.53" text-anchor="end" font-size="12"><tspan>10</tspan><tspan dx="0.6" dy="-5.6" font-size="8.8">&#8209;6</tspan></text>
<text x="44.2" y="145.07" text-anchor="end" font-size="12"><tspan>10</tspan><tspan dx="0.6" dy="-5.6" font-size="8.8">&#8209;8</tspan></text>
<text x="44.2" y="207.60" text-anchor="end" font-size="12"><tspan>10</tspan><tspan dx="0.6" dy="-5.6" font-size="8.8">&#8209;10</tspan></text>
<text x="44.2" y="270.13" text-anchor="end" font-size="12"><tspan>10</tspan><tspan dx="0.6" dy="-5.6" font-size="8.8">&#8209;12</tspan></text>
<text x="98.10" y="314.00" text-anchor="middle" font-size="12"><tspan>10</tspan><tspan dx="0.8" dy="-5.6" font-size="8.8">1</tspan></text>
<text x="261.70" y="314.00" text-anchor="middle" font-size="12"><tspan>10</tspan><tspan dx="0.8" dy="-5.6" font-size="8.8">2</tspan></text>
<text x="425.30" y="314.00" text-anchor="middle" font-size="12"><tspan>10</tspan><tspan dx="0.8" dy="-5.6" font-size="8.8">3</tspan></text>
<rect x="48.80" y="362.20" width="474.80" height="281.40" fill="none" stroke="#555555" stroke-width="1"/>
<path d="M48.85,643.60V641.40M48.85,362.20V364.40 M61.81,643.60V641.40M61.81,362.20V364.40 M72.76,643.60V641.40M72.76,362.20V364.40 M82.25,643.60V641.40M82.25,362.20V364.40 M90.61,643.60V641.40M90.61,362.20V364.40 M98.10,643.60V639.60M98.10,362.20V366.20 M147.35,643.60V641.40M147.35,362.20V364.40 M176.16,643.60V641.40M176.16,362.20V364.40 M196.60,643.60V641.40M196.60,362.20V364.40 M212.45,643.60V641.40M212.45,362.20V364.40 M225.41,643.60V641.40M225.41,362.20V364.40 M236.36,643.60V641.40M236.36,362.20V364.40 M245.85,643.60V641.40M245.85,362.20V364.40 M254.21,643.60V641.40M254.21,362.20V364.40 M261.70,643.60V639.60M261.70,362.20V366.20 M310.95,643.60V641.40M310.95,362.20V364.40 M339.76,643.60V641.40M339.76,362.20V364.40 M360.20,643.60V641.40M360.20,362.20V364.40 M376.05,643.60V641.40M376.05,362.20V364.40 M389.01,643.60V641.40M389.01,362.20V364.40 M399.96,643.60V641.40M399.96,362.20V364.40 M409.45,643.60V641.40M409.45,362.20V364.40 M417.81,643.60V641.40M417.81,362.20V364.40 M425.30,643.60V639.60M425.30,362.20V366.20 M474.55,643.60V641.40M474.55,362.20V364.40 M503.36,643.60V641.40M503.36,362.20V364.40 M523.80,643.60V641.40M523.80,362.20V364.40 M48.80,643.60H52.80M523.60,643.60H519.60 M48.80,631.50H51.00M523.60,631.50H521.40 M48.80,624.42H51.00M523.60,624.42H521.40 M48.80,619.40H51.00M523.60,619.40H521.40 M48.80,615.50H51.00M523.60,615.50H521.40 M48.80,612.32H51.00M523.60,612.32H521.40 M48.80,609.63H51.00M523.60,609.63H521.40 M48.80,607.30H51.00M523.60,607.30H521.40 M48.80,605.24H51.00M523.60,605.24H521.40 M48.80,603.40H52.80M523.60,603.40H519.60 M48.80,591.30H51.00M523.60,591.30H521.40 M48.80,584.22H51.00M523.60,584.22H521.40 M48.80,579.20H51.00M523.60,579.20H521.40 M48.80,575.30H51.00M523.60,575.30H521.40 M48.80,572.12H51.00M523.60,572.12H521.40 M48.80,569.43H51.00M523.60,569.43H521.40 M48.80,567.10H51.00M523.60,567.10H521.40 M48.80,565.04H51.00M523.60,565.04H521.40 M48.80,563.20H52.80M523.60,563.20H519.60 M48.80,551.10H51.00M523.60,551.10H521.40 M48.80,544.02H51.00M523.60,544.02H521.40 M48.80,539.00H51.00M523.60,539.00H521.40 M48.80,535.10H51.00M523.60,535.10H521.40 M48.80,531.92H51.00M523.60,531.92H521.40 M48.80,529.23H51.00M523.60,529.23H521.40 M48.80,526.90H51.00M523.60,526.90H521.40 M48.80,524.84H51.00M523.60,524.84H521.40 M48.80,523.00H52.80M523.60,523.00H519.60 M48.80,510.90H51.00M523.60,510.90H521.40 M48.80,503.82H51.00M523.60,503.82H521.40 M48.80,498.80H51.00M523.60,498.80H521.40 M48.80,494.90H51.00M523.60,494.90H521.40 M48.80,491.72H51.00M523.60,491.72H521.40 M48.80,489.03H51.00M523.60,489.03H521.40 M48.80,486.70H51.00M523.60,486.70H521.40 M48.80,484.64H51.00M523.60,484.64H521.40 M48.80,482.80H52.80M523.60,482.80H519.60 M48.80,470.70H51.00M523.60,470.70H521.40 M48.80,463.62H51.00M523.60,463.62H521.40 M48.80,458.60H51.00M523.60,458.60H521.40 M48.80,454.70H51.00M523.60,454.70H521.40 M48.80,451.52H51.00M523.60,451.52H521.40 M48.80,448.83H51.00M523.60,448.83H521.40 M48.80,446.50H51.00M523.60,446.50H521.40 M48.80,444.44H51.00M523.60,444.44H521.40 M48.80,442.60H52.80M523.60,442.60H519.60 M48.80,430.50H51.00M523.60,430.50H521.40 M48.80,423.42H51.00M523.60,423.42H521.40 M48.80,418.40H51.00M523.60,418.40H521.40 M48.80,414.50H51.00M523.60,414.50H521.40 M48.80,411.32H51.00M523.60,411.32H521.40 M48.80,408.63H51.00M523.60,408.63H521.40 M48.80,406.30H51.00M523.60,406.30H521.40 M48.80,404.24H51.00M523.60,404.24H521.40 M48.80,402.40H52.80M523.60,402.40H519.60 M48.80,390.30H51.00M523.60,390.30H521.40 M48.80,383.22H51.00M523.60,383.22H521.40 M48.80,378.20H51.00M523.60,378.20H521.40 M48.80,374.30H51.00M523.60,374.30H521.40 M48.80,371.12H51.00M523.60,371.12H521.40 M48.80,368.43H51.00M523.60,368.43H521.40 M48.80,366.10H51.00M523.60,366.10H521.40 M48.80,364.04H51.00M523.60,364.04H521.40 M48.80,362.20H52.80M523.60,362.20H519.60" stroke="#555555" stroke-width="1" fill="none"/>
<text x="44.2" y="368.20" text-anchor="end" font-size="12"><tspan>10</tspan><tspan dx="0.6" dy="-5.6" font-size="8.8">0</tspan></text>
<text x="44.2" y="408.40" text-anchor="end" font-size="12"><tspan>10</tspan><tspan dx="0.6" dy="-5.6" font-size="8.8">&#8209;1</tspan></text>
<text x="44.2" y="448.60" text-anchor="end" font-size="12"><tspan>10</tspan><tspan dx="0.6" dy="-5.6" font-size="8.8">&#8209;2</tspan></text>
<text x="44.2" y="488.80" text-anchor="end" font-size="12"><tspan>10</tspan><tspan dx="0.6" dy="-5.6" font-size="8.8">&#8209;3</tspan></text>
<text x="44.2" y="529.00" text-anchor="end" font-size="12"><tspan>10</tspan><tspan dx="0.6" dy="-5.6" font-size="8.8">&#8209;4</tspan></text>
<text x="44.2" y="569.20" text-anchor="end" font-size="12"><tspan>10</tspan><tspan dx="0.6" dy="-5.6" font-size="8.8">&#8209;5</tspan></text>
<text x="44.2" y="609.40" text-anchor="end" font-size="12"><tspan>10</tspan><tspan dx="0.6" dy="-5.6" font-size="8.8">&#8209;6</tspan></text>
<text x="44.2" y="649.60" text-anchor="end" font-size="12"><tspan>10</tspan><tspan dx="0.6" dy="-5.6" font-size="8.8">&#8209;7</tspan></text>
<text x="98.10" y="662.20" text-anchor="middle" font-size="12"><tspan>10</tspan><tspan dx="0.8" dy="-5.6" font-size="8.8">1</tspan></text>
<text x="261.70" y="662.20" text-anchor="middle" font-size="12"><tspan>10</tspan><tspan dx="0.8" dy="-5.6" font-size="8.8">2</tspan></text>
<text x="425.30" y="662.20" text-anchor="middle" font-size="12"><tspan>10</tspan><tspan dx="0.8" dy="-5.6" font-size="8.8">3</tspan></text>
<text x="286.5" y="9.2" text-anchor="middle" font-size="12.4">(a) 250 km</text>
<text x="286.5" y="357.0" text-anchor="middle" font-size="12.4">(b) 150 km</text>
<text x="287.5" y="329.2" text-anchor="middle" font-size="12.4">Suprathermal electron energy (eV)</text>
<text x="287.5" y="677.1" text-anchor="middle" font-size="12.4">Suprathermal electron energy (eV)</text>
<text transform="translate(12.90,155.40) rotate(-90)" text-anchor="middle" font-size="12.48">Differential neutral heating rate (eV cm<tspan dy="-5.8" font-size="9.9">-3</tspan><tspan dy="5.8"> s</tspan><tspan dy="-5.8" font-size="9.9">-1</tspan><tspan dy="5.8"> eV</tspan><tspan dy="-5.8" font-size="9.9">-1</tspan><tspan dy="5.8">)</tspan></text>
<text transform="translate(18.20,503.40) rotate(-90)" text-anchor="middle" font-size="12.48">Differential neutral heating rate (eV cm<tspan dy="-5.8" font-size="9.9">-3</tspan><tspan dy="5.8"> s</tspan><tspan dy="-5.8" font-size="9.9">-1</tspan><tspan dy="5.8"> eV</tspan><tspan dy="-5.8" font-size="9.9">-1</tspan><tspan dy="5.8">)</tspan></text>
<path d="M399.30,381.50H432.20" stroke="#000" stroke-width="1.35" stroke-dasharray="10.8 7.0" fill="none"/>
<text x="436.2" y="384.10" font-size="10.3">CO<tspan dy="3.9" font-size="8.6">2</tspan><tspan dx="0.7" dy="-3.9"> ela</tspan></text>
<path d="M399.30,399.50H432.20" stroke="#000" stroke-width="1.35" stroke-dasharray="8.9 3.9 1.2 4.0" fill="none"/>
<text x="436.2" y="402.10" font-size="10.3">CO<tspan dy="3.9" font-size="8.6">2</tspan><tspan dx="0.7" dy="-3.9"> exc diss K</tspan></text>
<path d="M399.30,417.50H432.20" stroke="#000" stroke-width="1.35" stroke-dasharray="8.9 3.9 1.2 4.0" fill="none"/>
<path d="M412.30,417.50H419.10M415.70,414.10V420.90" stroke="#000" stroke-width="1.35" fill="none"/>
<text x="436.2" y="420.10" font-size="10.3">CO<tspan dy="3.9" font-size="8.6">2</tspan><tspan dx="0.7" dy="-3.9"> exc diss Q</tspan></text>
<path d="M399.30,435.30H432.20" stroke="#000" stroke-width="1.35"  fill="none"/>
<text x="436.2" y="437.90" font-size="10.3">CO<tspan dy="3.9" font-size="8.6">2</tspan><tspan dx="0.7" dy="-3.9"> vib Q</tspan></text>
<path d="M399.30,454.30H432.20" stroke="#000" stroke-width="1.35" stroke-dasharray="1.3 3.0" fill="none"/>
<text x="436.2" y="458.60" font-size="10.3">CO<tspan dy="-4.6" font-size="8.6">+</tspan><tspan dx="-5.0" dy="8.5" font-size="8.6">2</tspan><tspan dx="0.7" dy="-3.9"> exc diss K</tspan><tspan dx="0.7" dy="4.3" font-size="8.6">n</tspan></text>
<path d="M399.30,474.80H432.20" stroke="#000" stroke-width="1.35" stroke-dasharray="1.3 3.0" fill="none"/>
<circle cx="415.80" cy="474.80" r="3.50" fill="none" stroke="#000" stroke-width="1.3"/>
<text x="436.2" y="479.10" font-size="10.3">CO<tspan dy="-4.6" font-size="8.6">+</tspan><tspan dx="-5.0" dy="8.5" font-size="8.6">2</tspan><tspan dx="0.7" dy="-3.9"> exc diss K</tspan><tspan dx="0.7" dy="4.3" font-size="8.6">i</tspan></text>
<path d="M399.30,491.70H432.20" stroke="#ff0000" stroke-width="1.35" stroke-dasharray="10.8 7.0" fill="none"/>
<text x="436.2" y="496.00" font-size="10.3">O ela</text>
<path d="M399.30,504.50H432.20" stroke="#ff0000" stroke-width="1.35" stroke-dasharray="8.9 3.9 1.2 4.0" fill="none"/>
<text x="436.2" y="508.80" font-size="10.3">O exc Q</text>
<path d="M399.30,518.90H432.20" stroke="#ff0000" stroke-width="1.35" stroke-dasharray="1.3 3.0" fill="none"/>
<text x="436.2" y="523.50" font-size="10.3">O<tspan dy="-4.6" font-size="8.6">+</tspan><tspan dx="1.0" dy="4.6"> exc Q</tspan></text>
</svg></body></html>
